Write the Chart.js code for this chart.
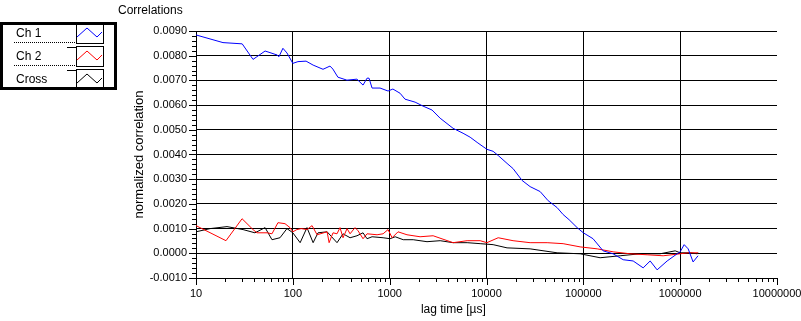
<!DOCTYPE html>
<html>
<head>
<meta charset="utf-8">
<title>Correlations</title>
<script src="https://cdn.jsdelivr.net/npm/chart.js@4.4.1/dist/chart.umd.min.js"></script>
<style>
  body { margin: 0; background: #fff; }
  #wrap { width: 801px; height: 321px; position: relative; }
</style>
</head>
<body>
<div id="wrap"><canvas id="corrChart" width="801" height="321"></canvas></div>
<script>
// chart data
const seriesNames = ['Ch 1', 'Ch 2', 'Cross'];
const seriesColors = ['rgb(0, 0, 255)', 'rgb(255, 0, 0)', 'rgb(0, 0, 0)'];

const ch1Lag = [10, 19, 30, 38.8, 42.6, 51.7, 68.7, 71.9, 79, 87, 100, 113, 137, 162, 205, 242,
  259, 292, 362, 459, 531, 584, 612, 658, 796, 962, 1080, 1280, 1440, 1830, 2210, 2740, 3320,
  4520, 5730, 6780, 8000, 10100, 11700, 13200, 16300, 18800, 23300, 28200, 35800, 43300, 53600,
  61800, 71300, 86300, 100000, 126000, 160000, 203000, 258000, 327000, 415000, 490000, 578000,
  734000, 931000, 1000000, 1100000, 1210000, 1360000, 1530000];
const ch1Corr = [0.00884, 0.00853, 0.00848, 0.00785, 0.00796, 0.00819, 0.00803, 0.00796, 0.0083,
  0.00811, 0.00769, 0.00776, 0.00778, 0.00762, 0.00745, 0.00758,
  0.00746, 0.00713, 0.00701, 0.00705, 0.00681, 0.00709, 0.00709, 0.00669, 0.00669, 0.00657,
  0.00665, 0.00648, 0.00624, 0.00612, 0.00596, 0.0058, 0.00547,
  0.00506, 0.00486, 0.0047, 0.00449, 0.00421, 0.00413, 0.00396, 0.00364, 0.00343, 0.00295,
  0.0027, 0.0025, 0.00213, 0.00185, 0.00157, 0.00136, 0.00104, 0.00083, 0.00059, 0.0001,
  -0.00002, -0.00026, -0.00031, -0.00059, -0.00031, -0.00067, -0.00031, -0.00002, 0.00006,
  0.00035, 0.00018, -0.00035, -0.0001];

const ch2Lag = [10, 20.4, 29.9, 38.8, 42.6, 54.2, 60.9, 70.2, 83, 93.5, 100, 110, 122, 140, 158,
  178, 226, 237, 260, 286, 307, 330, 363, 390, 439, 472, 531, 584, 741, 855, 962, 1060, 1220,
  1510, 2060, 2810, 4520, 6310, 8600, 10100, 13200, 18800, 28200, 42300, 61800, 92700, 139000,
  203000, 304000, 456000, 667000, 1000000, 1210000, 1530000];
const ch2Corr = [0.00112, 0.00051, 0.0014, 0.00096, 0.00083, 0.00083, 0.00079, 0.00124, 0.0012,
  0.00104, 0.00087, 0.00096, 0.001, 0.00096, 0.00112, 0.00075, 0.00087, 0.00043, 0.00083,
  0.00079, 0.00104, 0.00063, 0.001, 0.00079, 0.00104, 0.00091, 0.00059, 0.00079, 0.00075,
  0.00079, 0.00096, 0.00063, 0.00087, 0.00075, 0.00067, 0.00071, 0.00043, 0.00051, 0.00051,
  0.00043, 0.00063, 0.00051, 0.00043, 0.00043, 0.00039, 0.00026, 0.00018, 0.00006, -0.00002,
  -0.00006, -0.0001, -0.00002, 0.00002, 0.00002];

const crossLag = [10, 14, 20.9, 30.6, 40.6, 51.7, 60.9, 73.7, 87, 100, 119, 140, 162, 182, 226,
  286, 330, 390, 460, 531, 584, 658, 855, 1010, 1140, 1380, 1750, 2430, 3320, 4520, 6310, 8600,
  11700, 16300, 28200, 53600, 92700, 149000, 240000, 386000, 621000, 888000, 1000000, 1270000,
  1500000, 1530000];
const crossCorr = [0.00087, 0.001, 0.00108, 0.00096, 0.00083, 0.00104, 0.00055, 0.00063, 0.001,
  0.00083, 0.00043, 0.00104, 0.00043, 0.00083, 0.00087, 0.00043, 0.00079, 0.00063, 0.00071,
  0.00083, 0.00059, 0.00067, 0.00063, 0.00059, 0.00067, 0.00055, 0.00055, 0.00047, 0.00051,
  0.00043, 0.00043, 0.00039, 0.00035, 0.00022, 0.00018, 0.00002, -0.00002, -0.00018, -0.0001,
  -0.00002, -0.00002, 0.0001, 0.00002, 0.00002, -0.00002, 0.00002];

const xTickValues = [10, 100, 1000, 10000, 100000, 1000000, 10000000];
const xTickLabels = ['10', '100', '1000', '10000', '100000', '1000000', '10000000'];
const yTickValues = [-0.001, 0, 0.001, 0.002, 0.003, 0.004, 0.005, 0.006, 0.007, 0.008, 0.009];

const FONT = 'Liberation Sans';

function toPoints(lags, values) {
  return lags.map((lag, i) => ({ x: lag, y: values[i] }));
}

// minor ticks, titles and the little legend box, all drawn on the canvas
const extrasPlugin = {
  id: 'extras',
  afterDraw(chart) {
    const ctx = chart.ctx;
    const xs = chart.scales.x;
    const ys = chart.scales.y;
    const area = chart.chartArea;
    ctx.save();
    ctx.strokeStyle = '#000';
    ctx.lineWidth = 1;

    // x ticks below the axis
    ctx.beginPath();
    for (let d = 10; d <= 10000000; d *= 10) {
      const px = Math.round(xs.getPixelForValue(d)) + 0.5;
      ctx.moveTo(px, area.bottom);
      ctx.lineTo(px, area.bottom + 7);
      if (d < 10000000) {
        for (let m = 2; m <= 9; m++) {
          const mx = Math.round(xs.getPixelForValue(d * m)) + 0.5;
          ctx.moveTo(mx, area.bottom);
          ctx.lineTo(mx, area.bottom + 4);
        }
      }
    }
    // y ticks left of the axis
    for (let i = 0; i <= 50; i++) {
      const v = -0.001 + i * 0.0002;
      const py = Math.round(ys.getPixelForValue(v)) + 0.5;
      const len = (i % 5 === 0) ? 7 : 4;
      ctx.moveTo(area.left - len, py);
      ctx.lineTo(area.left, py);
    }
    ctx.stroke();

    // titles
    ctx.fillStyle = '#000';
    ctx.font = '12px ' + FONT;
    ctx.textAlign = 'left';
    ctx.textBaseline = 'alphabetic';
    ctx.fillText('Correlations', 118, 14);

    ctx.textAlign = 'center';
    ctx.textBaseline = 'middle';
    ctx.fillText('lag time [µs]', area.left + (area.right - area.left) * 0.443, 310);

    ctx.save();
    ctx.translate(139, (area.top + area.bottom) / 2);
    ctx.rotate(-Math.PI / 2);
    ctx.font = '13px ' + FONT;
    ctx.fillText('normalized correlation', 0, 0);
    ctx.restore();

    // legend
    ctx.lineWidth = 3;
    ctx.strokeRect(1.5, 23.5, 114, 65);
    ctx.lineWidth = 1;
    ctx.font = '12px ' + FONT;
    ctx.textAlign = 'left';
    ctx.textBaseline = 'alphabetic';
    chart.data.datasets.forEach((ds, i) => {
      const top = 23 + i * 23;
      ctx.fillStyle = '#000';
      ctx.fillText(ds.label, 16, top + 14);
      // dotted underline
      for (let x = 14; x < 76; x += 2) {
        ctx.fillRect(x, top + 19, 1, 1);
      }
      ctx.strokeStyle = '#000';
      ctx.beginPath();
      ctx.moveTo(67, top + 1.5);
      ctx.lineTo(76, top + 1.5);
      ctx.stroke();
      ctx.strokeRect(76.5, top + 0.5, 27, 20);
      ctx.strokeStyle = ds.borderColor;
      ctx.beginPath();
      ctx.moveTo(77, top + 14);
      ctx.lineTo(87, top + 5);
      ctx.lineTo(97, top + 14);
      ctx.lineTo(102, top + 9);
      ctx.stroke();
    });

    ctx.restore();
  }
};

function drawChart() {
  const ctx = document.getElementById('corrChart').getContext('2d');
  const lagArrays = [ch1Lag, ch2Lag, crossLag];
  const corrArrays = [ch1Corr, ch2Corr, crossCorr];

  const datasets = seriesNames.map((name, i) => ({
    label: name,
    data: toPoints(lagArrays[i], corrArrays[i]),
    borderColor: seriesColors[i],
    backgroundColor: seriesColors[i],
    borderWidth: 1,
    pointRadius: 0,
    tension: 0,
    fill: false,
  }));

  new Chart(ctx, {
    type: 'line',
    data: { datasets: datasets },
    options: {
      responsive: false,
      animation: false,
      layout: { padding: { top: 31, right: 24, left: 0, bottom: 0 } },
      plugins: {
        legend: { display: false },
        title: { display: false },
        tooltip: { enabled: false },
      },
      scales: {
        x: {
          type: 'logarithmic',
          min: 10,
          max: 10000000,
          afterBuildTicks: (scale) => {
            scale.ticks = xTickValues.map((v) => ({ value: v }));
          },
          afterFit: (scale) => {
            scale.height = 43;
            scale.paddingLeft = 0;
            scale.paddingRight = 0;
          },
          ticks: {
            autoSkip: false,
            maxRotation: 0,
            padding: 9,
            color: '#000',
            font: { family: FONT, size: 11 },
            callback: (value) => {
              const idx = xTickValues.indexOf(value);
              return idx >= 0 ? xTickLabels[idx] : '';
            },
          },
          grid: {
            drawTicks: false,
            color: (c) => (c.tick && c.tick.value === 10000000 ? 'rgba(0,0,0,0)' : '#000'),
          },
          border: { display: true, color: '#000' },
        },
        y: {
          min: -0.001,
          max: 0.009,
          afterBuildTicks: (scale) => {
            scale.ticks = yTickValues.map((v) => ({ value: v }));
          },
          afterFit: (scale) => {
            scale.width = 196;
            scale.paddingTop = 0;
            scale.paddingBottom = 0;
          },
          ticks: {
            autoSkip: false,
            padding: 9,
            color: '#000',
            font: { family: FONT, size: 11 },
            callback: (value) => value.toFixed(4),
          },
          grid: { drawTicks: false, color: '#000' },
          border: { display: true, color: '#000' },
        },
      },
    },
    plugins: [extrasPlugin],
  });
}

document.addEventListener('DOMContentLoaded', () => {
  drawChart();
});
</script>
</body>
</html>
